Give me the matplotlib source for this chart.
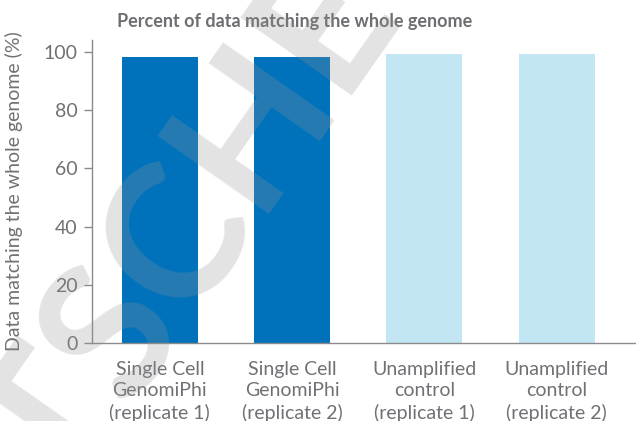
import numpy as np
import matplotlib.pyplot as plt

# data
categories = [
    "Single Cell\nGenomiPhi\n(replicate 1)",
    "Single Cell\nGenomiPhi\n(replicate 2)",
    "Unamplified\ncontrol\n(replicate 1)",
    "Unamplified\ncontrol\n(replicate 2)",
]
percent_matching = [98.2, 98.2, 99.2, 99.2]
bar_colors = ["#0072bc", "#0072bc", "#c2e6f4", "#c2e6f4"]

plt.rcParams['font.family'] = ['Lato', 'DejaVu Sans']
text_color = "#6d6e71"

fig = plt.figure(figsize=(6.36, 4.21), dpi=100)
ax = fig.add_axes([0.144, 0.185, 0.856, 0.72])

x = np.arange(len(categories))
ax.bar(x, percent_matching, width=0.576, color=bar_colors, zorder=2)

ax.set_xlim(-0.516, 3.6)
ax.set_ylim(0, 104)
ax.set_yticks([0, 20, 40, 60, 80, 100])
ax.set_xticks(x)
ax.set_xticklabels(categories, fontsize=14, color="#707175", linespacing=1.3)
ax.tick_params(axis='x', length=0, pad=13)
ax.tick_params(axis='y', length=6, width=1, color="#8a8a8a", labelsize=14,
               labelcolor="#707175", pad=4)

for side in ['top', 'right']:
    ax.spines[side].set_visible(False)
for side in ['left', 'bottom']:
    ax.spines[side].set_color("#8a8a8a")
    ax.spines[side].set_linewidth(1)

ax.set_ylabel("Data matching the whole genome (%)", fontsize=14, color="#707175")
# put the y label centre about 23 px from the left edge
ax.yaxis.set_label_coords((23 - 91.5) / (0.856 * 636), 0.5)

fig.text(295 / 636, 1 - 21 / 421, "Percent of data matching the whole genome",
         ha='center', va='center', fontsize=13, fontweight='bold', color=text_color)

# faint diagonal watermark over everything
fig.text(190 / 636, 1 - 228 / 421, "TSCHE", rotation=55, ha='center', va='center',
         fontsize=135, fontweight='bold', color="#939393", alpha=0.26,
         zorder=10)

fig.savefig("out.png", dpi=100)
